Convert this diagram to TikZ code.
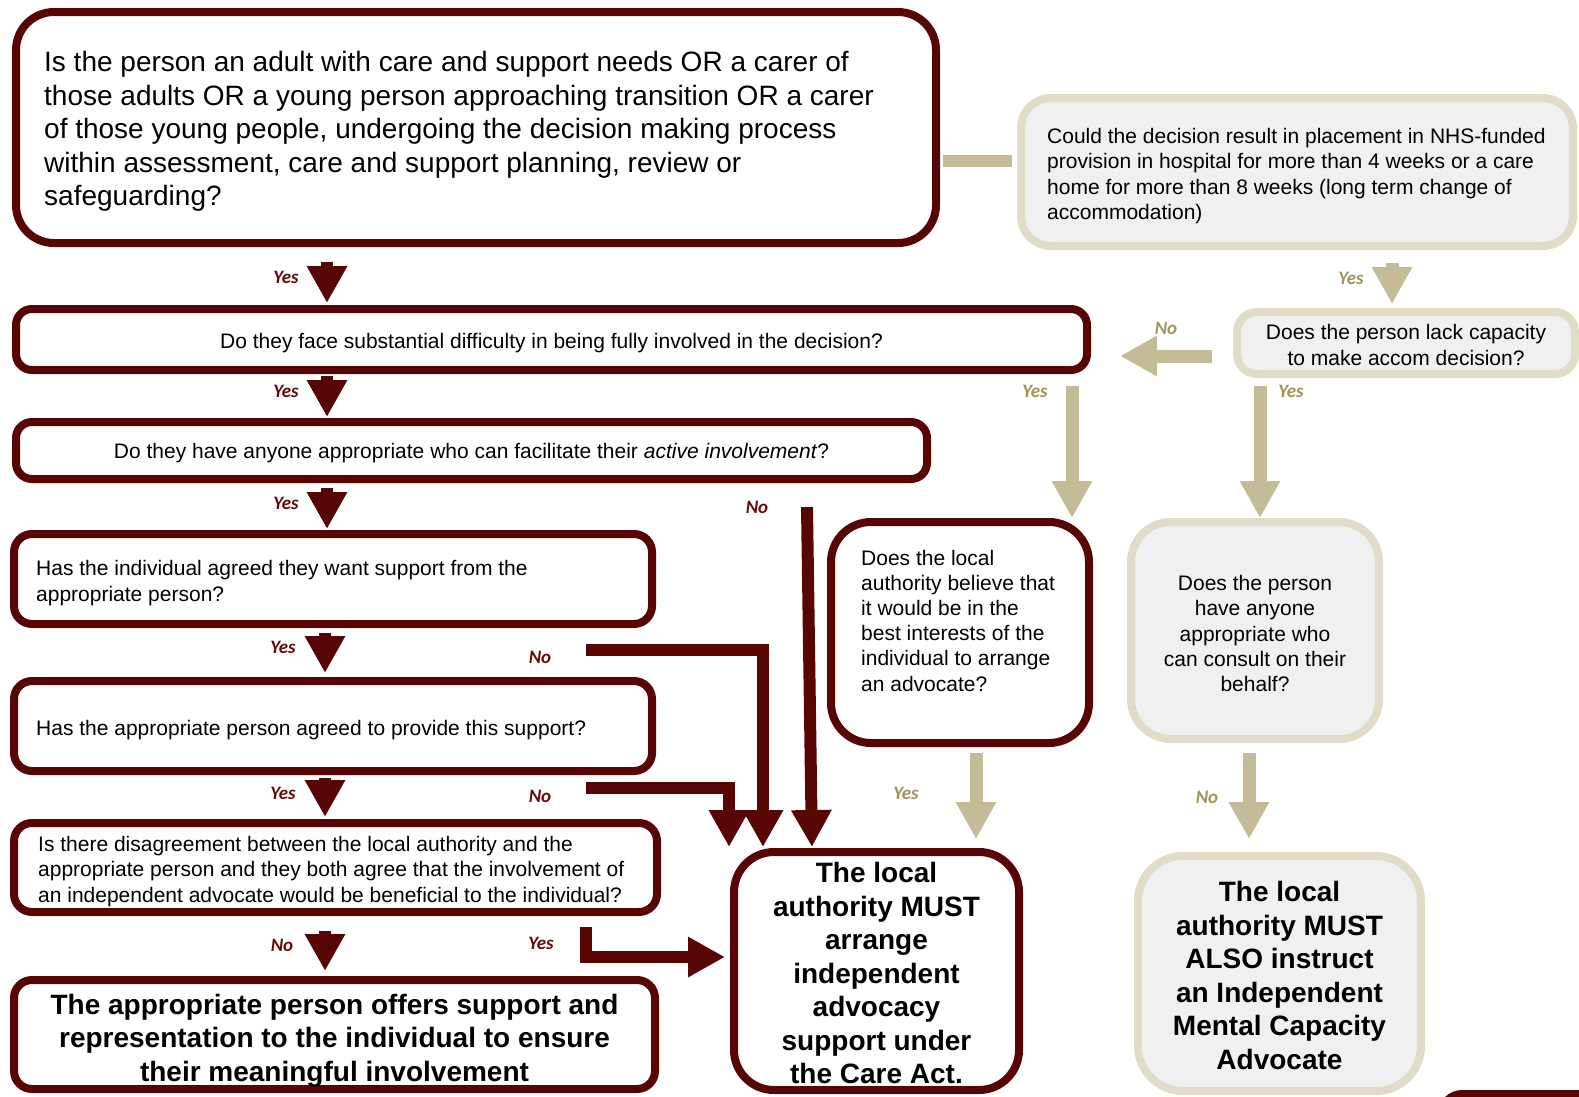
\documentclass[tikz,border=0pt]{standalone}
\usepackage{fontspec}
\setmainfont{Liberation Sans}
\newfontfamily\yesnofont{Carlito}
\usetikzlibrary{arrows.meta}
\definecolor{carered}{RGB}{88,5,5}
\definecolor{labelred}{RGB}{105,10,10}
\definecolor{mcatan}{RGB}{196,188,150}
\definecolor{mcaline}{RGB}{224,220,200}
\definecolor{mcafill}{RGB}{240,240,240}
\definecolor{labeltan}{RGB}{158,148,92}
\tikzstyle{question}=[rectangle,draw=carered,line width=8pt,fill=white,outer sep=0pt,inner sep=0pt]
\tikzstyle{mcaquestion}=[rectangle,draw=mcaline,line width=8pt,fill=mcafill,outer sep=0pt,inner sep=0pt]
\tikzstyle{qtext}=[inner sep=0pt,font=\fontsize{21}{25.2}\selectfont]
\tikzstyle{bigq}=[inner sep=0pt,font=\fontsize{28}{33.5}\selectfont]
\tikzstyle{outcome}=[inner sep=0pt,font=\fontsize{28}{33.5}\selectfont\bfseries,align=center]
\tikzstyle{redarrow}=[draw=carered,line width=12pt,-{Triangle[length=37pt,width=38pt]}]
\tikzstyle{tanarrow}=[draw=mcatan,line width=13pt,-{Triangle[length=37pt,width=38pt]}]
\tikzstyle{redlabel}=[inner sep=0pt,text=labelred,font=\yesnofont\fontsize{19}{19}\selectfont\bfseries\itshape]
\tikzstyle{tanlabel}=[redlabel,text=labeltan]

\begin{document}
\begin{tikzpicture}[x=1pt,y=-1pt]
      \useasboundingbox (0,0) rectangle (1579,1096);
      % left column (care act)
      \node [question,rounded corners=38pt,minimum width=920pt,minimum height=231pt] (person) at (476,127.5) {};
      \node [bigq,anchor=west,align=left] (personText) at ([xshift=28pt,yshift=-4pt]person.west) {Is the person an adult with care and support needs OR a carer of\\those adults OR a young person approaching transition OR a carer\\of those young people, undergoing the decision making process\\within assessment, care and support planning, review or\\safeguarding?};
      \node [question,rounded corners=16pt,minimum width=1071pt,minimum height=61pt] (difficulty) at (551.5,339.5) {};
      \node [qtext] (difficultyText) at ([yshift=-4pt]difficulty.center) {Do they face substantial difficulty in being fully involved in the decision?};
      \node [question,rounded corners=16pt,minimum width=911pt,minimum height=57pt] (facilitator) at (471.5,450.5) {};
      \node [qtext] (facilitatorText) at ([yshift=-3pt]facilitator.center) {Do they have anyone appropriate who can facilitate their \textit{active involvement}?};
      \node [question,rounded corners=18pt,minimum width=638pt,minimum height=90pt] (agreed) at (333,579) {};
      \node [qtext,anchor=west,align=left] (agreedText) at ([xshift=22pt,yshift=-4pt]agreed.west) {Has the individual agreed they want support from the\\appropriate person?};
      \node [question,rounded corners=18pt,minimum width=638pt,minimum height=90pt] (provide) at (333,726) {};
      \node [qtext,anchor=west,align=left] (provideText) at ([xshift=22pt,yshift=-4pt]provide.west) {Has the appropriate person agreed to provide this support?};
      \node [question,rounded corners=18pt,minimum width=643pt,minimum height=89pt] (disagree) at (335.5,867.5) {};
      \node [qtext,anchor=west,align=left] (disagreeText) at ([xshift=24pt,yshift=-4pt]disagree.west) {Is there disagreement between the local authority and the\\appropriate person and they both agree that the involvement of\\an independent advocate would be beneficial to the individual?};
      \node [question,rounded corners=18pt,minimum width=641pt,minimum height=109pt] (offers) at (334.5,1034.5) {};
      \node [outcome] (offersText) at ([yshift=-6pt]offers.center) {The appropriate person offers support and\\representation to the individual to ensure\\their meaningful involvement};
      \node [question,rounded corners=40pt,minimum width=285pt,minimum height=238pt] (must) at (876.5,971) {};
      \node [outcome] (mustText) at ([yshift=-2pt]must.center) {The local\\authority MUST\\arrange\\independent\\advocacy\\support under\\the Care Act.};
      \node [question,rounded corners=40pt,minimum width=258pt,minimum height=221pt] (bestint) at (960,632.5) {};
      \node [qtext,anchor=west,align=left] (bestintText) at ([xshift=30pt,yshift=12pt]bestint.west) {Does the local\\authority believe that\\it would be in the\\best interests of the\\individual to arrange\\an advocate?};
      % right column (mental capacity)
      \node [mcaquestion,rounded corners=30pt,minimum width=552pt,minimum height=148pt] (nhs) at (1297,172) {};
      \node [qtext,anchor=west,align=left] (nhsText) at ([xshift=26pt,yshift=-4pt]nhs.west) {Could the decision result in placement in NHS-funded\\provision in hospital for more than 4 weeks or a care\\home for more than 8 weeks (long term change of\\accommodation)};
      \node [mcaquestion,rounded corners=20pt,minimum width=338pt,minimum height=62pt] (capacity) at (1406,343) {};
      \node [qtext,align=center] (capacityText) at ([yshift=-2pt]capacity.center) {Does the person lack capacity\\to make accom decision?};
      \node [mcaquestion,rounded corners=40pt,minimum width=248pt,minimum height=217pt] (consult) at (1255,630.5) {};
      \node [qtext,align=center] (consultText) at ([yshift=-3pt]consult.center) {Does the person\\have anyone\\appropriate who\\can consult on their\\behalf?};
      \node [mcaquestion,rounded corners=45pt,minimum width=283pt,minimum height=235pt] (imca) at (1279.5,973.5) {};
      \node [outcome] (imcaText) at ([yshift=-2pt]imca.center) {The local\\authority MUST\\ALSO instruct\\an Independent\\Mental Capacity\\Advocate};
      \node [question,rounded corners=20pt,minimum width=300pt,minimum height=100pt,anchor=north west] (nextbox) at (1442,1094) {};
      % yes / no arrows
      \draw [redarrow,shorten <=19pt,shorten >=6pt] (person.south -| 327,0) -- (difficulty.north -| 327,0);
      \draw [redarrow,shorten <=6pt,shorten >=5pt] (difficulty.south -| 327,0) -- (facilitator.north -| 327,0);
      \draw [redarrow,shorten <=9pt,shorten >=5pt] (facilitator.south -| 327,0) -- (agreed.north -| 327,0);
      \draw [redarrow,shorten <=9pt,shorten >=8pt] (agreed.south -| 325,0) -- (provide.north -| 325,0);
      \draw [redarrow,shorten <=7pt,shorten >=6pt] (provide.south -| 325,0) -- (disagree.north -| 325,0);
      \draw [redarrow,shorten <=19pt,shorten >=9pt] (disagree.south -| 325,0) -- (offers.north -| 325,0);
      \coordinate (facilitatorNo) at (807,507);
      \coordinate (agreedNo) at (586,650);
      \coordinate (provideNo) at (586,788);
      \coordinate (disagreeYes) at (586,927);
      \draw [redarrow,shorten >=5pt] (facilitatorNo) -- (must.north -| 812,0);
      \draw [redarrow,shorten >=5pt] (agreedNo) -| (must.north -| 763,0);
      \draw [redarrow,shorten >=5pt] (provideNo) -| (must.north -| 729,0);
      \draw [redarrow,shorten >=9pt] (disagreeYes) |- (must.west |- 0,957);
      \draw [draw=mcatan,line width=12pt,shorten <=7pt,shorten >=9pt] (person.east |- 0,161) -- (nhs.west |- 0,161);
      \draw [tanarrow,shorten <=17pt,shorten >=8pt] (nhs.south -| 1392,0) -- (capacity.north -| 1392,0);
      \draw [tanarrow,shorten <=25pt,shorten >=33pt] (capacity.west |- 0,356) -- (difficulty.east |- 0,356);
      \draw [tanarrow,shorten <=16pt,shorten >=4pt] (difficulty.south -| 1072,0) -- (bestint.north -| 1072,0);
      \draw [tanarrow,shorten <=12pt,shorten >=4pt] (capacity.south -| 1260,0) -- (consult.north -| 1260,0);
      \draw [tanarrow,shorten <=10pt,shorten >=13pt] (bestint.south -| 976,0) -- (must.north -| 976,0);
      \draw [tanarrow,shorten <=14pt,shorten >=17pt] (consult.south -| 1249,0) -- (imca.north -| 1249,0);
      % labels
      \node [redlabel] (yes1) at (286,277) {Yes};
      \node [redlabel] (yes2) at (286,391) {Yes};
      \node [redlabel] (yes3) at (286,503) {Yes};
      \node [redlabel] (yes4) at (283,647) {Yes};
      \node [redlabel] (yes5) at (283,793) {Yes};
      \node [redlabel] (yes6) at (541,943) {Yes};
      \node [redlabel] (no3) at (757,507) {No};
      \node [redlabel] (no4) at (540,657) {No};
      \node [redlabel] (no5) at (540,796) {No};
      \node [redlabel] (no6) at (282,945) {No};
      \node [tanlabel] (yesNhs) at (1351,278) {Yes};
      \node [tanlabel] (noCapacity) at (1166,328) {No};
      \node [tanlabel] (yesDifficulty) at (1035,391) {Yes};
      \node [tanlabel] (yesCapacity) at (1291,391) {Yes};
      \node [tanlabel] (yesBestint) at (906,793) {Yes};
      \node [tanlabel] (noConsult) at (1207,797) {No};
    \end{tikzpicture}
\end{document}
